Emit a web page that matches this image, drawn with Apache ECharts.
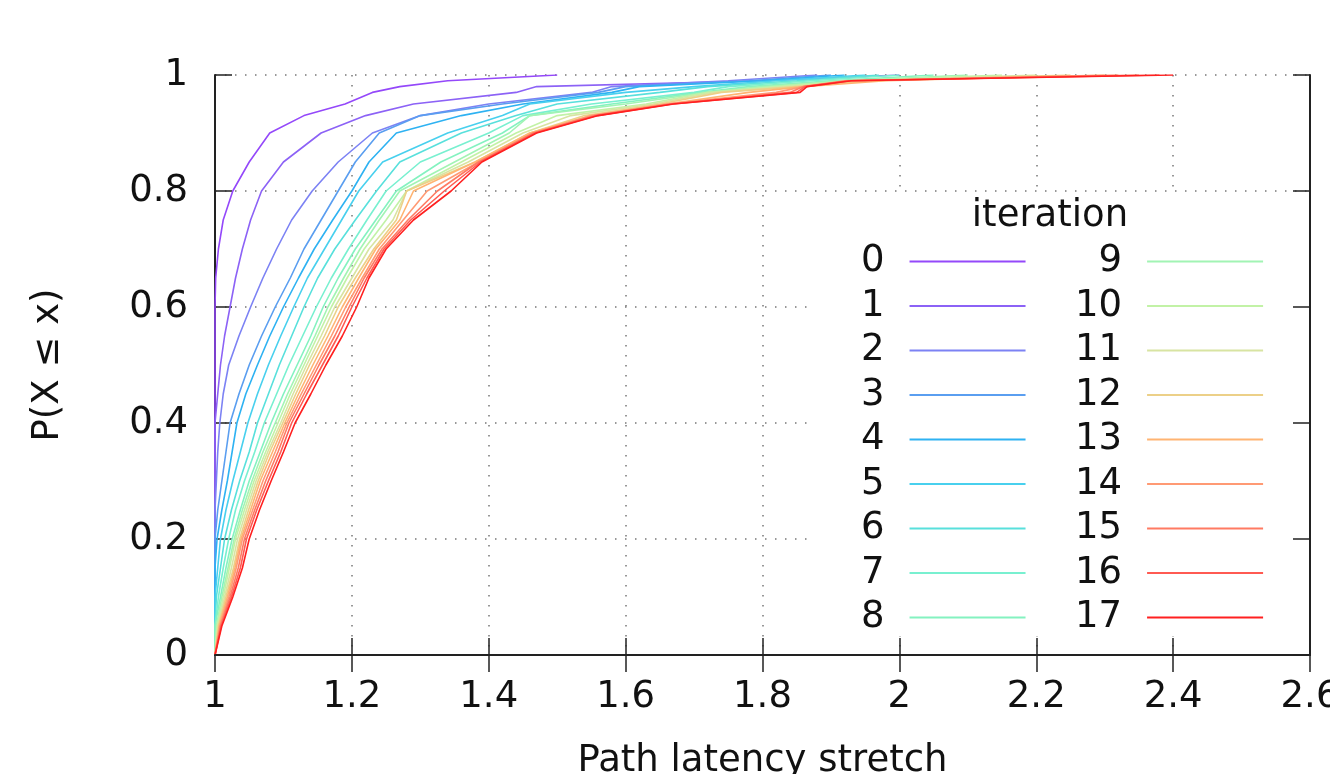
<!DOCTYPE html>
<html>
<head>
<meta charset="utf-8">
<title>Path latency stretch</title>
<script src="https://cdn.jsdelivr.net/npm/echarts@6/dist/echarts.min.js"></script>
<style>
    html, body { margin: 0; padding: 0; background: #fff; }
    #main { width: 1330px; height: 774px; }
</style>
</head>
<body>
<div id="main"></div>
<script type="text/javascript">
    // probability levels (y) shared by all curves
    var probs = [0, 0.05, 0.1, 0.15, 0.2, 0.25, 0.3, 0.35, 0.4, 0.45, 0.5, 0.55, 0.6,
                 0.65, 0.7, 0.75, 0.8, 0.85, 0.9, 0.93, 0.95, 0.97, 0.98, 0.99, 1];

    // stretch value reached at each probability level, one array per iteration
    var iter0  = [1, 1, 1, 1, 1, 1, 1, 1, 1, 1, 1, 1, 1, 1.001, 1.005, 1.012, 1.026, 1.05, 1.08, 1.13, 1.19, 1.23, 1.27, 1.34, 1.5];
    var iter1  = [1, 1, 1, 1, 1, 1, 1, 1, 1, 1.004, 1.008, 1.014, 1.022, 1.03, 1.04, 1.052, 1.068, 1.1, 1.155, 1.22, 1.29, 1.44, 1.47, 1.8, 2.0];
    var iter2  = [1, 1, 1, 1, 1, 1, 1.002, 1.004, 1.007, 1.012, 1.02, 1.035, 1.052, 1.07, 1.09, 1.112, 1.142, 1.18, 1.23, 1.3, 1.4, 1.55, 1.58, 1.75, 1.88];
    var iter3  = [1, 1, 1, 1, 1, 1.004, 1.01, 1.016, 1.022, 1.035, 1.05, 1.068, 1.088, 1.11, 1.13, 1.155, 1.18, 1.205, 1.24, 1.3, 1.42, 1.56, 1.6, 1.78, 1.9];
    var iter4  = [1, 1, 1, 1, 1.003, 1.01, 1.018, 1.025, 1.032, 1.045, 1.062, 1.08, 1.1, 1.122, 1.145, 1.172, 1.2, 1.225, 1.265, 1.36, 1.45, 1.58, 1.62, 1.8, 1.92];
    var iter5  = [1, 1, 1, 1.004, 1.008, 1.016, 1.026, 1.037, 1.048, 1.062, 1.078, 1.096, 1.115, 1.135, 1.16, 1.185, 1.21, 1.245, 1.34, 1.42, 1.46, 1.6, 1.7, 1.82, 1.95];
    var iter6  = [1, 1, 1.002, 1.008, 1.014, 1.024, 1.036, 1.05, 1.062, 1.078, 1.094, 1.112, 1.13, 1.15, 1.175, 1.205, 1.236, 1.27, 1.36, 1.44, 1.5, 1.65, 1.72, 1.85, 1.97];
    var iter7  = [1, 1, 1.005, 1.012, 1.02, 1.03, 1.043, 1.058, 1.072, 1.09, 1.108, 1.128, 1.148, 1.17, 1.195, 1.222, 1.25, 1.3, 1.4, 1.45, 1.55, 1.7, 1.75, 1.87, 2.0];
    var iter8  = [1, 1, 1.008, 1.016, 1.025, 1.037, 1.05, 1.066, 1.082, 1.1, 1.12, 1.14, 1.158, 1.18, 1.205, 1.235, 1.265, 1.33, 1.42, 1.46, 1.58, 1.71, 1.78, 1.9, 2.05];
    var iter9  = [1, 1.002, 1.01, 1.019, 1.028, 1.04, 1.054, 1.07, 1.088, 1.106, 1.126, 1.146, 1.165, 1.188, 1.212, 1.24, 1.27, 1.35, 1.43, 1.46, 1.6, 1.72, 1.8, 1.92, 2.1];
    var iter10 = [1, 1.003, 1.012, 1.021, 1.03, 1.043, 1.057, 1.074, 1.092, 1.11, 1.13, 1.15, 1.17, 1.193, 1.218, 1.25, 1.28, 1.36, 1.44, 1.5, 1.63, 1.72, 1.82, 1.93, 2.15];
    var iter11 = [1, 1.004, 1.014, 1.024, 1.033, 1.046, 1.06, 1.077, 1.096, 1.114, 1.134, 1.155, 1.175, 1.2, 1.225, 1.26, 1.28, 1.37, 1.45, 1.52, 1.64, 1.73, 1.84, 1.95, 2.2];
    var iter12 = [1, 1.005, 1.016, 1.027, 1.036, 1.049, 1.063, 1.08, 1.099, 1.118, 1.138, 1.16, 1.18, 1.205, 1.232, 1.265, 1.28, 1.38, 1.46, 1.54, 1.65, 1.74, 1.85, 1.96, 2.25];
    var iter13 = [1, 1.006, 1.018, 1.029, 1.038, 1.052, 1.066, 1.084, 1.102, 1.122, 1.143, 1.165, 1.186, 1.21, 1.235, 1.27, 1.29, 1.38, 1.46, 1.55, 1.66, 1.78, 1.86, 1.98, 2.3];
    var iter14 = [1, 1.007, 1.02, 1.031, 1.04, 1.055, 1.07, 1.088, 1.105, 1.126, 1.148, 1.17, 1.191, 1.215, 1.24, 1.275, 1.31, 1.385, 1.465, 1.55, 1.66, 1.82, 1.86, 1.92, 2.32];
    var iter15 = [1, 1.008, 1.022, 1.034, 1.043, 1.058, 1.074, 1.092, 1.108, 1.13, 1.152, 1.175, 1.196, 1.218, 1.244, 1.282, 1.325, 1.385, 1.465, 1.555, 1.665, 1.84, 1.86, 1.925, 2.35];
    var iter16 = [1, 1.009, 1.024, 1.037, 1.046, 1.061, 1.078, 1.096, 1.112, 1.134, 1.157, 1.18, 1.2, 1.222, 1.247, 1.286, 1.335, 1.388, 1.468, 1.558, 1.668, 1.85, 1.862, 1.928, 2.38];
    var iter17 = [1, 1.01, 1.026, 1.04, 1.05, 1.065, 1.082, 1.1, 1.117, 1.14, 1.162, 1.186, 1.207, 1.225, 1.25, 1.29, 1.345, 1.39, 1.47, 1.56, 1.67, 1.855, 1.865, 1.93, 2.4];

    var iterations = [iter0, iter1, iter2, iter3, iter4, iter5, iter6, iter7, iter8,
                      iter9, iter10, iter11, iter12, iter13, iter14, iter15, iter16, iter17];
    var iterNames = ['0', '1', '2', '3', '4', '5', '6', '7', '8',
                     '9', '10', '11', '12', '13', '14', '15', '16', '17'];
    var iterColors = ['#9448fa', '#8c62f6', '#7c82f4', '#5a9ef0', '#2eb2f2', '#48d0ee',
                      '#58e0dc', '#78f0d0', '#84f2c0', '#a2f4b4', '#c2f2a6', '#d8e4a2',
                      '#ecd088', '#ffb472', '#ff9a74', '#ff7a62', '#ff5a52', '#ff2020'];

    var FONT = 'DejaVu Sans';
    var FS = 37;

    var series = iterations.map(function (xs, k) {
        return {
            name: iterNames[k],
            type: 'line',
            showSymbol: false,
            symbol: 'none',
            color: iterColors[k],
            lineStyle: { width: 1.6, color: iterColors[k] },
            z: 5,
            data: probs.map(function (p, i) { return [xs[i], p]; })
        };
    });

    var legendCommon = {
        orient: 'vertical',
        align: 'right',
        icon: 'rect',
        itemWidth: 116,
        itemHeight: 2,
        itemGap: 7.5,
        padding: 0,
        selectedMode: false,
        textStyle: { fontFamily: FONT, fontSize: FS, color: '#111', padding: [0, 20, 0, 0] }
    };

    var myChart = echarts.init(document.getElementById('main'));
    myChart.setOption({
        animation: false,
        backgroundColor: '#fff',
        grid: { left: 215, right: 20, top: 75, bottom: 119, outerBoundsMode: 'none', containLabel: false },
        xAxis: [{
            type: 'value', min: 1, max: 2.6, interval: 0.2,
            name: 'Path latency stretch', nameLocation: 'middle', nameGap: 88,
            nameTextStyle: { fontFamily: FONT, fontSize: FS, color: '#111' },
            axisLine: { lineStyle: { color: '#222', width: 2 } },
            axisTick: { inside: true, length: 17, lineStyle: { color: '#222', width: 1.5 } },
            axisLabel: { fontFamily: FONT, fontSize: FS, color: '#111', margin: 24 },
            splitLine: { show: true, lineStyle: { color: '#777', width: 1.5, type: [1.5, 8.5] } }
        }, {
            type: 'value', min: 1, max: 2.6, interval: 0.2, position: 'top', z: 8,
            axisLine: { lineStyle: { color: '#222', width: 2 } },
            axisTick: { inside: true, length: 17, lineStyle: { color: '#222', width: 1.5 } },
            axisLabel: { show: false },
            splitLine: { show: false }
        }],
        yAxis: [{
            type: 'value', min: 0, max: 1, interval: 0.2,
            name: 'P(X ≤ x)', nameLocation: 'middle', nameGap: 148,
            nameTextStyle: { fontFamily: FONT, fontSize: FS, color: '#111' },
            axisLine: { lineStyle: { color: '#222', width: 2 } },
            axisTick: { inside: true, length: 17, lineStyle: { color: '#222', width: 1.5 } },
            axisLabel: { fontFamily: FONT, fontSize: FS, color: '#111', margin: 27 },
            splitLine: { show: true, lineStyle: { color: '#777', width: 1.5, type: [1.5, 8.5] } }
        }, {
            type: 'value', min: 0, max: 1, interval: 0.2, position: 'right', z: 8,
            axisLine: { lineStyle: { color: '#222', width: 2 } },
            axisTick: { inside: true, length: 17, lineStyle: { color: '#222', width: 1.5 } },
            axisLabel: { show: false },
            splitLine: { show: false }
        }],
        legend: [
            Object.assign({}, legendCommon, { data: iterNames.slice(0, 9), left: 861, top: 243 }),
            Object.assign({}, legendCommon, { data: iterNames.slice(9), left: 1075, top: 243 })
        ],
        graphic: [{
            type: 'rect', z: 3, silent: true,
            shape: { x: 815, y: 195, width: 495, height: 441 },
            style: { fill: '#fff' }
        }, {
            type: 'text', z: 6, x: 1050, y: 216,
            style: { text: 'iteration', fontFamily: FONT, fontSize: FS, fill: '#111',
                     textAlign: 'center', textVerticalAlign: 'middle' }
        }],
        series: series
    });
</script>
</body>
</html>
